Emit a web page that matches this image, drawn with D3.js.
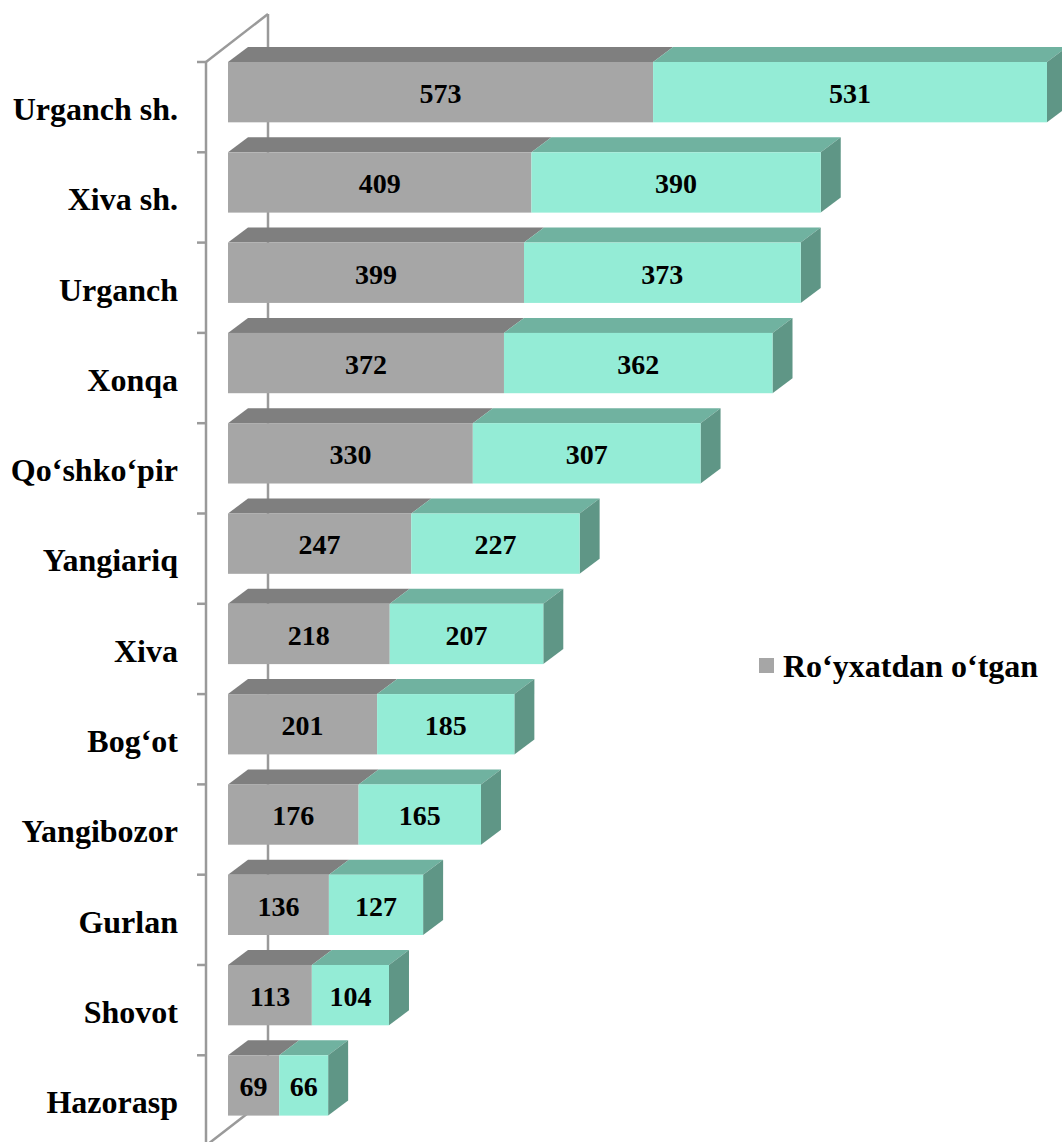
<!DOCTYPE html>
<html>
<head>
<meta charset="utf-8">
<script src="https://cdn.jsdelivr.net/npm/d3@7"></script>
<style>
  html, body { margin: 0; padding: 0; background: #fff; }
  svg { display: block; }
</style>
</head>
<body>
<svg id="chart" width="1062" height="1142"></svg>
<script>
const categories = ["Urganch sh.", "Xiva sh.", "Urganch", "Xonqa", "Qo‘shko‘pir", "Yangiariq", "Xiva", "Bog‘ot", "Yangibozor", "Gurlan", "Shovot", "Hazorasp"];
const registered = [573, 409, 399, 372, 330, 247, 218, 201, 176, 136, 113, 69];
const secondSeries = [531, 390, 373, 362, 307, 227, 207, 185, 165, 127, 104, 66];
const seriesNames = ["Ro‘yxatdan o‘tgan", ""];

const svg = d3.select("#chart");
const font = "'Liberation Serif', 'Times New Roman', serif";

const x = d3.scaleLinear().domain([0, 1104]).range([228, 1047]);
const y = d3.scaleBand().domain(categories).range([62, 1115.6]).paddingInner(0.332).paddingOuter(0);
const step = y.step();
const bh = y.bandwidth();
const dx = 20, dy = -15;          // bar depth
const wdx = 62, wdy = -48;        // wall depth
const axisX = 206;
const plotTop = 62, plotBottom = 62 + step * categories.length;
const wallColor = "#9a9a9a";

// walls
const g = svg.append("g");
g.append("line").attr("x1", axisX + wdx).attr("y1", plotTop + wdy).attr("x2", axisX + wdx).attr("y2", plotBottom + wdy)
  .attr("stroke", wallColor).attr("stroke-width", 2.5);
g.append("line").attr("x1", axisX).attr("y1", plotTop).attr("x2", axisX + wdx).attr("y2", plotTop + wdy)
  .attr("stroke", wallColor).attr("stroke-width", 2.5);
g.append("line").attr("x1", axisX).attr("y1", plotBottom).attr("x2", axisX + wdx).attr("y2", plotBottom + wdy)
  .attr("stroke", wallColor).attr("stroke-width", 2.5);
g.append("line").attr("x1", axisX).attr("y1", plotTop).attr("x2", axisX).attr("y2", plotBottom)
  .attr("stroke", wallColor).attr("stroke-width", 2.5);
// ticks
d3.range(categories.length + 1).forEach(i => {
  const ty = plotTop + i * step;
  g.append("line").attr("x1", axisX - 9).attr("x2", axisX).attr("y1", ty).attr("y2", ty)
    .attr("stroke", wallColor).attr("stroke-width", 2.5);
});

const rows = categories.map((c, i) => ({ c, a: registered[i], b: secondSeries[i] }));

const colors = {
  aFront: "#a6a6a6", aTop: "#7f7f7f", aSide: "#6e6e6e",
  bFront: "#94ecd6", bTop: "#70b2a0", bSide: "#5f9686"
};

function poly(sel, pts, fill) {
  sel.append("polygon").attr("points", pts.map(p => p.join(",")).join(" ")).attr("fill", fill);
}

const bars = svg.append("g");
rows.forEach(r => {
  const y0 = y(r.c), y1 = y0 + bh;
  const x0 = x(0), x1 = x(r.a), x2 = x(r.a + r.b);
  const gg = bars.append("g");
  // gray segment
  poly(gg, [[x0, y0], [x0 + dx, y0 + dy], [x1 + dx, y0 + dy], [x1, y0]], colors.aTop);
  gg.append("rect").attr("x", x0).attr("y", y0).attr("width", x1 - x0).attr("height", bh).attr("fill", colors.aFront);
  // teal segment
  poly(gg, [[x1, y0], [x1 + dx, y0 + dy], [x2 + dx, y0 + dy], [x2, y0]], colors.bTop);
  poly(gg, [[x2, y0], [x2 + dx, y0 + dy], [x2 + dx, y1 + dy], [x2, y1]], colors.bSide);
  gg.append("rect").attr("x", x1).attr("y", y0).attr("width", x2 - x1).attr("height", bh).attr("fill", colors.bFront);
  // value labels
  gg.append("text").attr("x", (x0 + x1) / 2).attr("y", y0 + 41).attr("text-anchor", "middle")
    .attr("font-family", font).attr("font-weight", "bold").attr("font-size", 28).attr("fill", "#000").text(r.a);
  gg.append("text").attr("x", (x1 + x2) / 2).attr("y", y0 + 41).attr("text-anchor", "middle")
    .attr("font-family", font).attr("font-weight", "bold").attr("font-size", 28).attr("fill", "#000").text(r.b);
  // category label
  bars.append("text").attr("x", 178).attr("y", y0 + 58).attr("text-anchor", "end")
    .attr("font-family", font).attr("font-weight", "bold").attr("font-size", 32).attr("fill", "#000").text(r.c);
});

// legend
const lg = svg.append("g");
lg.append("rect").attr("x", 759).attr("y", 658).attr("width", 15).attr("height", 15).attr("fill", colors.aFront);
lg.append("text").attr("x", 783).attr("y", 677).attr("font-family", font).attr("font-weight", "bold")
  .attr("font-size", 32).attr("fill", "#000").text(seriesNames[0]);
</script>
</body>
</html>
